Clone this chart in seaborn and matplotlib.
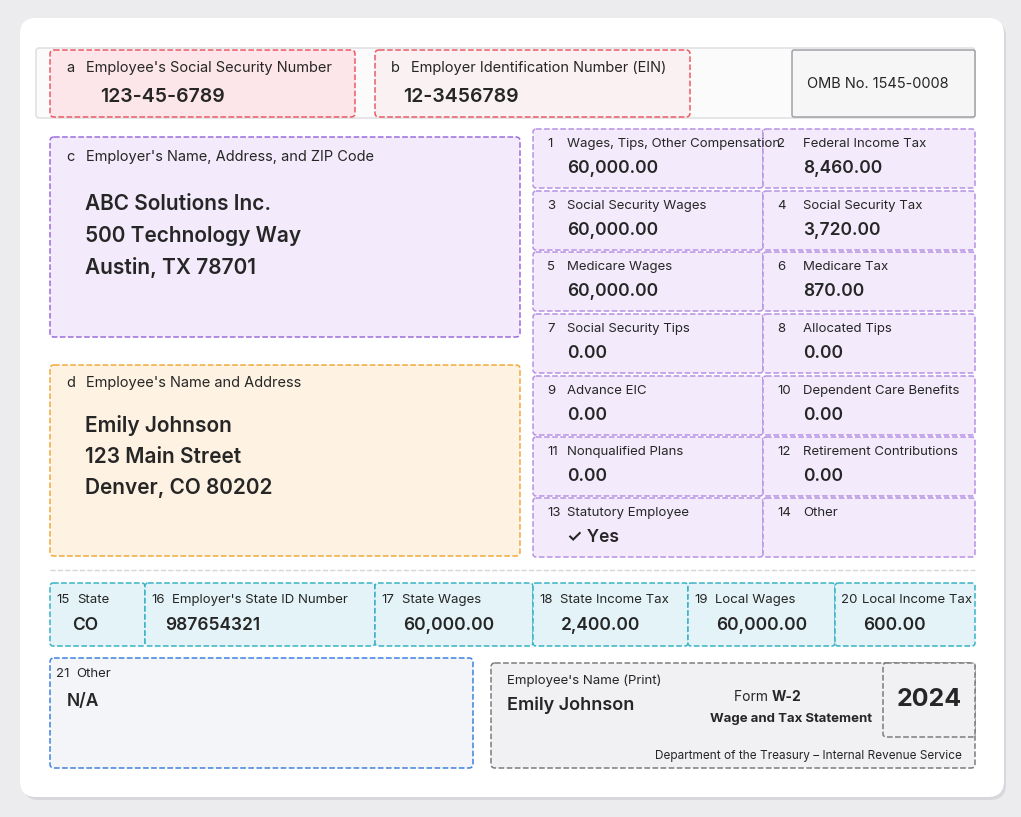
import matplotlib.pyplot as plt
import seaborn as sns
from matplotlib.patches import FancyBboxPatch

sns.set_style('white')
plt.rcParams['font.family'] = ['Inter', 'DejaVu Sans']

# form content
top_codes = ['a', 'b']
top_labels = ["Employee's Social Security Number", 'Employer Identification Number (EIN)']
top_values = ['123-45-6789', '12-3456789']
omb = 'OMB No. 1545-0008'

employer = ['ABC Solutions Inc.', '500 Technology Way', 'Austin, TX 78701']
employee = ['Emily Johnson', '123 Main Street', 'Denver, CO 80202']

box_nums = ['1', '2', '3', '4', '5', '6', '7', '8', '9', '10', '11', '12', '13', '14']
box_labels = ['Wages, Tips, Other Compensation', 'Federal Income Tax', 'Social Security Wages',
              'Social Security Tax', 'Medicare Wages', 'Medicare Tax', 'Social Security Tips',
              'Allocated Tips', 'Advance EIC', 'Dependent Care Benefits', 'Nonqualified Plans',
              'Retirement Contributions', 'Statutory Employee', 'Other']
box_values = ['60,000.00', '8,460.00', '60,000.00', '3,720.00', '60,000.00', '870.00', '0.00',
              '0.00', '0.00', '0.00', '0.00', '0.00', '✓ Yes', '']

state_nums = ['15', '16', '17', '18', '19', '20']
state_labels = ['State', "Employer's State ID Number", 'State Wages', 'State Income Tax',
                'Local Wages', 'Local Income Tax']
state_values = ['CO', '987654321', '60,000.00', '2,400.00', '60,000.00', '600.00']

fig = plt.figure(figsize=(10.21, 8.17), dpi=100)
fig.patch.set_facecolor('#ececee')
ax = fig.add_axes([0, 0, 1, 1])
ax.set_xlim(0, 1021)
ax.set_ylim(817, 0)
ax.axis('off')


def box(x0, y0, x1, y1, fc, ec, ls='--', lw=1.1, r=4, z=2):
    ax.add_patch(FancyBboxPatch((x0, y0), x1 - x0, y1 - y0,
                                boxstyle=f'round,pad=0,rounding_size={r}',
                                fc=fc, ec=ec, ls=ls, lw=lw, zorder=z))


# card
box(23, 21, 1006, 800, '#d8d8dc', 'none', ls='-', r=16, z=0)
box(20, 18, 1004, 797, 'white', 'none', ls='-', r=16, z=1)

# top row
box(36, 48, 975, 118, '#fbfbfc', '#dcdcdf', ls='-', lw=1, r=3, z=1)
cols = [(50, 355, '#fde6ea'), (375, 690, '#faf1f2')]
for (x0, x1, fc), c, lab, val in zip(cols, top_codes, top_labels, top_values):
    box(x0, 50, x1, 117, fc, '#ec5a66')
    ax.text(x0 + 16, 68, c, fontsize=10.5, va='center', zorder=5)
    ax.text(x0 + 36, 68, lab, fontsize=10.5, va='center', zorder=5)
    ax.text(x0 + 50 if c == 'a' else x0 + 28, 97, val, fontsize=14, fontweight='semibold',
            va='center', zorder=5)
box(792, 50, 975, 117, '#f6f6f7', '#9a9a9e', ls='-', lw=1, r=2)
ax.text(878, 84, omb, fontsize=10.5, ha='center', va='center', zorder=5)

# c and d
box(50, 137, 520, 337, '#f3ebfb', '#9b6cdc')
ax.text(66, 157, 'c', fontsize=10.5, va='center', zorder=5)
ax.text(86, 157, "Employer's Name, Address, and ZIP Code", fontsize=10.5, va='center', zorder=5)
for i, line in enumerate(employer):
    ax.text(85, 204 + i * 31.5, line, fontsize=15, fontweight='semibold', va='center', zorder=5)

box(50, 365, 520, 556, '#fef3e3', '#f2a93a')
ax.text(66, 383, 'd', fontsize=10.5, va='center', zorder=5)
ax.text(86, 383, "Employee's Name and Address", fontsize=10.5, va='center', zorder=5)
for i, line in enumerate(employee):
    ax.text(85, 425 + i * 31.5, line, fontsize=15, fontweight='semibold', va='center', zorder=5)

# numbered boxes 1-14
row_tops = [129, 191, 252, 314, 376, 437, 498]
col_x = [(533, 763), (763, 975)]
for i, (n, lab, val) in enumerate(zip(box_nums, box_labels, box_values)):
    r, c = divmod(i, 2)
    x0, x1 = col_x[c]
    y0 = row_tops[r]
    box(x0, y0, x1, y0 + 59, '#f3ebfb', '#b791e4', r=3)
    ax.text(x0 + 14, y0 + 15, n, fontsize=9.5, va='center', zorder=5)
    ax.text(x0 + 34 if c == 0 else x0 + 40, y0 + 15, lab, fontsize=9.5, va='center', zorder=5)
    ax.text(x0 + 34 if c == 0 else x0 + 40, y0 + 39, val, fontsize=12.5, fontweight='semibold',
            va='center', zorder=5)

# separator
ax.plot([50, 975], [570, 570], color='#d6d6d8', lw=1, ls='--', zorder=2)

# state row
state_x = [50, 145, 375, 533, 688, 835, 975]
for i, (n, lab, val) in enumerate(zip(state_nums, state_labels, state_values)):
    x0, x1 = state_x[i], state_x[i + 1]
    box(x0, 583, x1, 646, '#e3f3f7', '#39b3c6', r=3)
    ax.text(x0 + 6, 600, n, fontsize=9.5, va='center', zorder=5)
    ax.text(x0 + 27, 600, lab, fontsize=9.5, va='center', zorder=5)
    off = 22 if i == 0 else 20 if i == 1 else 28
    ax.text(x0 + off, 626, val, fontsize=12.5, fontweight='semibold', va='center', zorder=5)

# box 21
box(50, 658, 473, 768, '#f4f5f9', '#3f82e0', r=4)
ax.text(56, 674, '21', fontsize=9.5, va='center', zorder=5)
ax.text(76, 674, 'Other', fontsize=9.5, va='center', zorder=5)
ax.text(67, 701, 'N/A', fontsize=12.5, fontweight='semibold', va='center', zorder=5)

# signature / form box
box(491, 663, 975, 768, '#f1f0f3', '#7c7c80', r=4)
box(883, 663, 975, 737, '#f1f0f3', '#7c7c80', r=3)
ax.text(507, 681, "Employee's Name (Print)", fontsize=9.5, va='center', zorder=5)
ax.text(507, 705, 'Emily Johnson', fontsize=13, fontweight='semibold', va='center', zorder=5)
ax.text(772, 697, 'Form ', fontsize=10, ha='right', va='center', zorder=5)
ax.text(772, 697, 'W-2', fontsize=10, fontweight='bold', ha='left', va='center', zorder=5)
ax.text(791, 719, 'Wage and Tax Statement', fontsize=9.5, fontweight='bold', ha='center', va='center', zorder=5)
ax.text(929, 699, '2024', fontsize=18, fontweight='bold', ha='center', va='center', zorder=5)
ax.text(962, 756, 'Department of the Treasury – Internal Revenue Service', fontsize=8.5,
        ha='right', va='center', zorder=5)

fig.savefig('out.png', dpi=100)
